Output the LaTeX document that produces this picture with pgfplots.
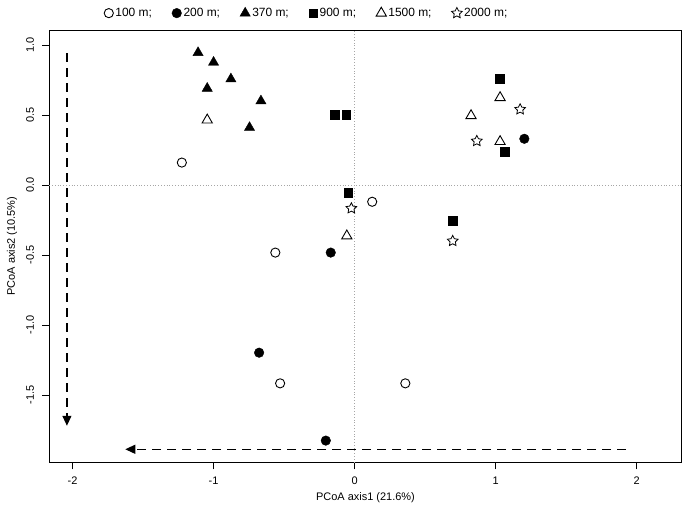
\documentclass[border=0pt]{standalone}
\usepackage{pgfplots}
\pgfplotsset{compat=1.18}
\usepackage{fontspec}
\setmainfont{Liberation Sans}
\usetikzlibrary{arrows.meta}

\pgfdeclareplotmark{ostar}{%
  \pgfpathmoveto{\pgfpointpolar{90}{\pgfplotmarksize}}%
  \pgfpathlineto{\pgfpointpolar{126}{0.5\pgfplotmarksize}}%
  \pgfpathlineto{\pgfpointpolar{162}{\pgfplotmarksize}}%
  \pgfpathlineto{\pgfpointpolar{198}{0.5\pgfplotmarksize}}%
  \pgfpathlineto{\pgfpointpolar{234}{\pgfplotmarksize}}%
  \pgfpathlineto{\pgfpointpolar{270}{0.5\pgfplotmarksize}}%
  \pgfpathlineto{\pgfpointpolar{306}{\pgfplotmarksize}}%
  \pgfpathlineto{\pgfpointpolar{342}{0.5\pgfplotmarksize}}%
  \pgfpathlineto{\pgfpointpolar{18}{\pgfplotmarksize}}%
  \pgfpathlineto{\pgfpointpolar{54}{0.5\pgfplotmarksize}}%
  \pgfpathclose
  \pgfusepathqstroke
}

\begin{document}
\begin{tikzpicture}
\useasboundingbox (-49.3bp,-43.7bp) rectangle (636.7bp,462.3bp);
\begin{axis}[
  at={(0,0)}, anchor=south west,
  scale only axis, width=632.4bp, height=432.3bp,
  xmin=-2.165, xmax=2.32, ymin=-1.981, ymax=1.107,
  axis line style={black, line width=0.8bp},
  xtick={-2,-1,0,1,2}, ytick={-1.5,-1,-0.5,0,0.5,1},
  xtick pos=bottom, ytick pos=left,
  tick align=outside, major tick length=7bp,
  tick style={black, line width=0.8bp},
  ticklabel style={font=\fontsize{11}{13}\selectfont},
  /pgf/number format/assume math mode=true,
  yticklabel={\pgfmathprintnumber[fixed,fixed zerofill,precision=1]{\tick}},
  yticklabel style={rotate=90, anchor=south, inner sep=0pt},
  yticklabel shift=8bp,
  xticklabel style={anchor=north, inner sep=0pt},
  xticklabel shift=7bp,
  legend columns=6,
  legend style={draw=none, fill=none, inner sep=0pt,
    at={(rel axis cs:0.0865,1.039)}, anchor=west,
    font=\fontsize{12}{14}\selectfont,
    /tikz/every even column/.append style={column sep=18bp}},
  legend image code/.code={\draw[mark repeat=2,mark phase=2,#1] plot coordinates {(0bp,0bp)(5bp,0bp)(10bp,0bp)};},
  clip=false,
]
\draw[gray!70, dotted, line width=0.8bp] (axis cs:0,-1.981) -- (axis cs:0,1.107);
\draw[gray!70, dotted, line width=0.8bp] (axis cs:-2.165,0) -- (axis cs:2.32,0);

\addplot[only marks, mark=o, mark size=4.6bp, mark options={line width=0.9bp, black}]
  coordinates {(-1.225,0.160) (0.125,-0.120) (-0.562,-0.483) (-0.528,-1.417) (0.360,-1.417)};
\addlegendentry{100 m;}
\addplot[only marks, mark=*, mark size=4.8bp, mark options={black, fill=black}]
  coordinates {(1.204,0.330) (-0.169,-0.483) (-0.677,-1.198) (-0.204,-1.826)};
\addlegendentry{200 m;}
\addplot[only marks, mark=triangle*, mark size=5.9bp, mark options={black, fill=black}]
  coordinates {(-1.110,0.945) (-1.000,0.876) (-0.877,0.757) (-1.045,0.690) (-0.664,0.600) (-0.745,0.410)};
\addlegendentry{370 m;}
\addplot[only marks, mark=square*, mark size=4.4bp, mark options={black, fill=black}]
  coordinates {(-0.140,0.500) (-0.059,0.500) (-0.045,-0.055) (1.032,0.757) (1.067,0.238) (0.696,-0.255)};
\addlegendentry{900 m;}
\addplot[only marks, mark=triangle, mark size=5.9bp, mark options={line width=0.9bp, black}]
  coordinates {(-1.045,0.464) (-0.055,-0.364) (1.032,0.624) (0.826,0.495) (1.032,0.310)};
\addlegendentry{1500 m;}
\addplot[only marks, mark=ostar, mark size=5.6bp, mark options={line width=0.8bp, black}]
  coordinates {(-0.023,-0.167) (1.174,0.540) (0.867,0.314) (0.696,-0.400)};
\addlegendentry{2000 m;}

\draw[black, line width=1.2bp, dash pattern=on 9bp off 6bp, -{Triangle[length=10bp,width=9bp]}]
  (axis cs:-2.04,0.94) -- (axis cs:-2.04,-1.72);
\draw[black, line width=1.2bp, dash pattern=on 9bp off 6bp, -{Triangle[length=10bp,width=9bp]}]
  (axis cs:1.925,-1.888) -- (axis cs:-1.626,-1.888);
\end{axis}
\node[font=\fontsize{11}{13}\selectfont] at (316.2bp,-35bp) {PCoA axis1 (21.6\%)};
\node[font=\fontsize{11}{13}\selectfont, rotate=90] at (-37.3bp,216.2bp) {PCoA axis2 (10.5\%)};
\end{tikzpicture}
\end{document}
